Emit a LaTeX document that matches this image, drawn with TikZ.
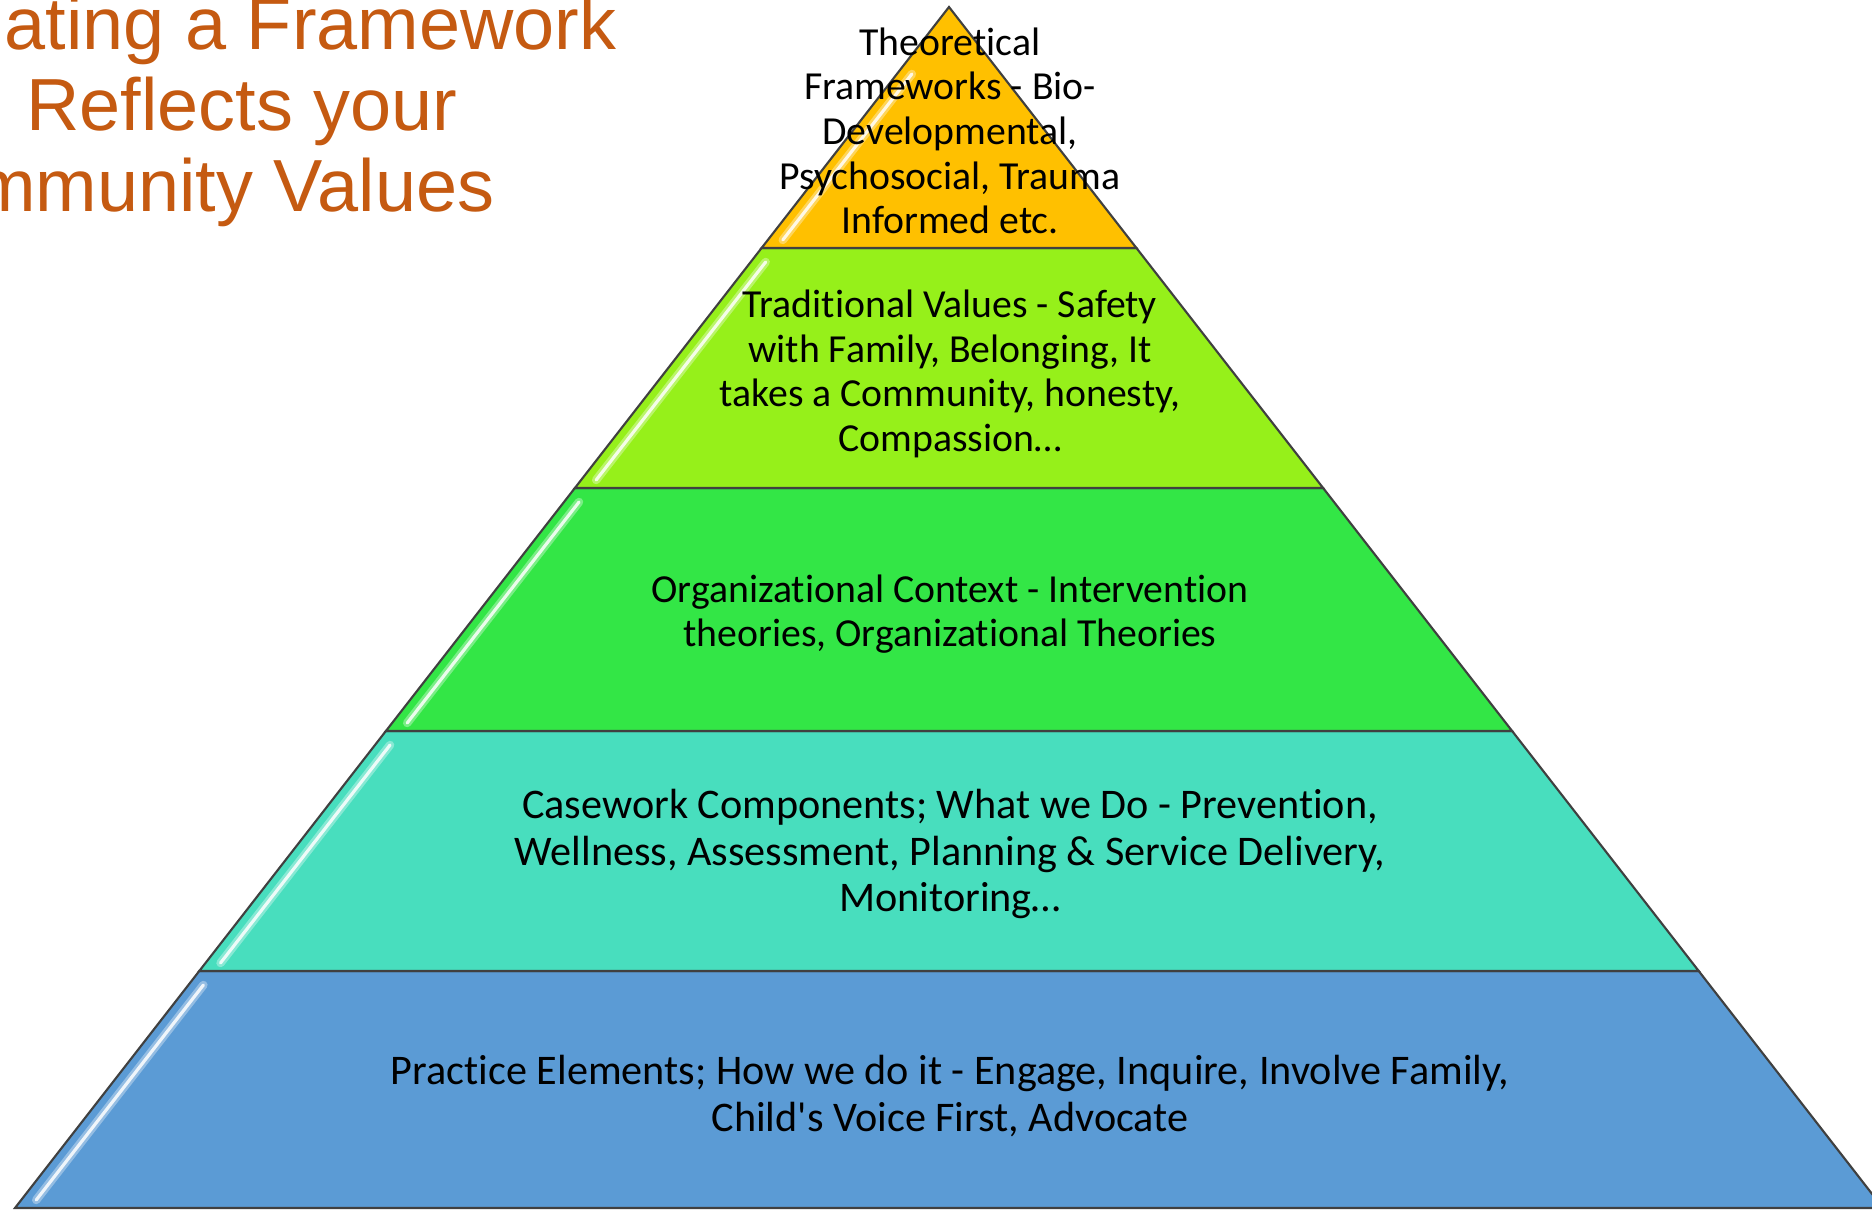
\documentclass[tikz,border=0pt]{standalone}
\usepackage{fontspec}
\setmainfont[Ligatures={NoCommon}]{Carlito}
\newfontfamily\titlefont{Liberation Sans}
\usetikzlibrary{calc}
\definecolor{ttl}{RGB}{197,90,17}
\definecolor{lyA}{RGB}{255,192,0}
\definecolor{lyB}{RGB}{150,240,26}
\definecolor{lyC}{RGB}{51,230,70}
\definecolor{lyD}{RGB}{72,222,190}
\definecolor{lyE}{RGB}{91,155,213}
\definecolor{edgegray}{RGB}{64,64,64}
\tikzset{
  layer/.style={draw=edgegray, line width=0.6pt, line join=miter},
  glow/.style={line width=2.4pt, white, opacity=0.35, line cap=round},
  hl/.style={line width=0.9pt, white, opacity=0.85, line cap=round},
  labeltext/.style={font=\fontsize{11.3}{12.7}\selectfont, align=center, text=black, inner sep=0pt},
  biglabeltext/.style={font=\fontsize{12.0}{13.3}\selectfont, align=center, text=black, inner sep=0pt},
  titletext/.style={font=\titlefont\fontsize{21}{23}\selectfont, text=ttl, inner sep=0pt}
}
\begin{document}
\begin{tikzpicture}[x=0.01cm,y=-0.01cm, declare function={ex(\y)=949-0.7777*(\y-7);}]
\useasboundingbox (0,0) rectangle (1872,1210);
\clip (0,0) rectangle (1872,1210);
\fill[white] (0,0) rectangle (1872,1210);

% layers
\path[layer, fill=lyE] (199.3,971) -- (1698.7,971) -- (1883,1208) -- (15,1208) -- cycle;
\path[layer, fill=lyD] (385.9,731) -- (1512.1,731) -- (1698.7,971) -- (199.3,971) -- cycle;
\path[layer, fill=lyC] (574.9,488) -- (1323.1,488) -- (1512.1,731) -- (385.9,731) -- cycle;
\path[layer, fill=lyB] (761.6,248) -- (1136.4,248) -- (1323.1,488) -- (574.9,488) -- cycle;
\path[layer, fill=lyA] (949,7) -- (1136.4,248) -- (761.6,248) -- cycle;

% glossy highlights on left edges
\foreach \yt/\yb in {971/1208, 731/971, 488/731, 248/488, 60/248} {
  \draw[glow] ({ex(\yt+14)+15},\yt+14) -- ({ex(\yb-8)+15},\yb-8);
  \draw[hl] ({ex(\yt+14)+15},\yt+14) -- ({ex(\yb-8)+15},\yb-8);
}

% labels
\node[labeltext] (t1) at (950,131) {Theoretical\\Frameworks - Bio-\\Developmental,\\Psychosocial, Trauma\\Informed etc.};
\node[labeltext] (t2) at (950,374) {Traditional Values - Safety\\with Family, Belonging, It\\takes a Community, honesty,\\Compassion\ldots};
\node[labeltext] (t3) at (950,614) {Organizational Context - Intervention\\theories, Organizational Theories};
\node[biglabeltext] (t4) at (950,854) {Casework Components; What we Do - Prevention,\\Wellness, Assessment, Planning \& Service Delivery,\\Monitoring\ldots};
\node[biglabeltext] (t5) at (950,1096) {Practice Elements; How we do it - Engage, Inquire, Involve Family,\\Child\textquotesingle s Voice First, Advocate};

% title (clipped at the left edge)
\node[titletext, anchor=base east] (h1) at (617,50) {ating a Framework};
\node[titletext, anchor=base east] (h2) at (458,131) {Reflects your};
\node[titletext, anchor=base east] (h3) at (495,212) {mmunity Values};
\end{tikzpicture}
\end{document}
